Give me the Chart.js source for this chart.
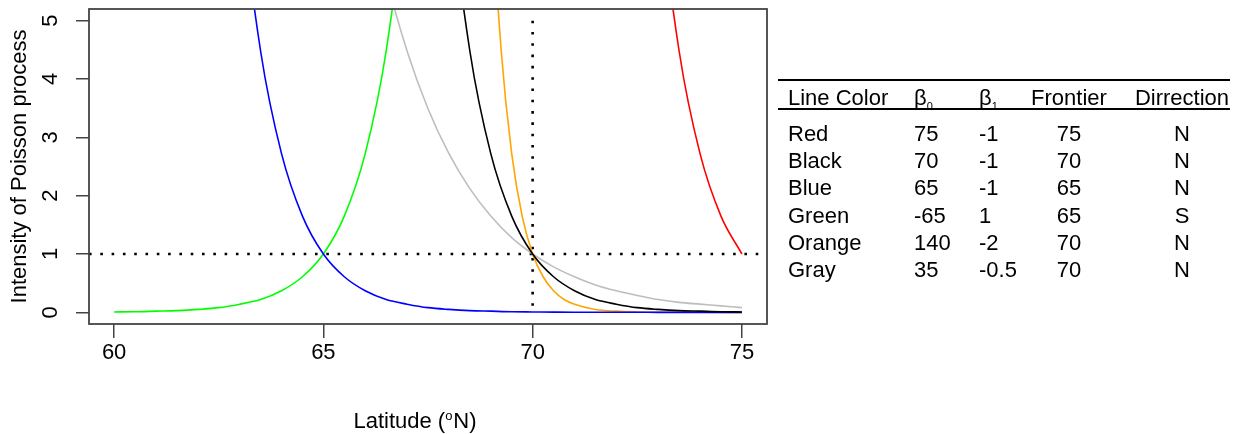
<!DOCTYPE html>
<html>
<head>
<meta charset="utf-8">
<title>Intensity of Poisson process</title>
<script src="https://cdn.jsdelivr.net/npm/chart.js"></script>
<style>
  body { margin: 0; background: #fff; font-family: "Liberation Sans", Arial, sans-serif; }
  #wrap { position: relative; width: 1255px; height: 434px; }
  canvas { position: absolute; left: 0; top: 0; }
  .cell { position: absolute; font-size: 22px; line-height: 27px; white-space: nowrap; color: #000; }
  .cell sub { font-size: 11px; vertical-align: -5px; }
  .center { transform: translateX(-50%); }
  .rule { position: absolute; left: 778px; width: 452px; height: 2px; background: #000; }
</style>
</head>
<body>
<div id="wrap">
  <canvas id="myChart" width="1255" height="434"></canvas>
</div>
<script>
// curves: intensity, per latitude
const redLat = [72.5, 73, 73.5, 74, 74.5, 75];
const redIntensity = [12.18, 7.39, 4.48, 2.72, 1.65, 1.00];

const blackLat = [67.5, 68, 68.5, 69, 69.5, 70, 70.5, 71, 71.5, 72, 72.5, 73, 73.5, 74, 74.5, 75];
const blackIntensity = [12.18, 7.39, 4.48, 2.72, 1.65, 1.00, 0.61, 0.37, 0.22, 0.14, 0.08, 0.05, 0.03, 0.02, 0.01, 0.007];

const blueLat = [62.5, 63, 63.5, 64, 64.5, 65, 65.5, 66, 66.5, 67, 67.5, 68, 68.5, 69, 69.5, 70, 70.5, 71, 71.5, 72, 72.5, 73, 73.5, 74, 74.5, 75];
const blueIntensity = [12.18, 7.39, 4.48, 2.72, 1.65, 1.00, 0.61, 0.37, 0.22, 0.14, 0.08, 0.05, 0.03, 0.02, 0.01, 0.007, 0.004, 0.002, 0.002, 0.001, 0.001, 0, 0, 0, 0, 0];

const greenLat = [60, 60.5, 61, 61.5, 62, 62.5, 63, 63.5, 64, 64.5, 65, 65.5, 66, 66.5, 67, 67.5];
const greenIntensity = [0.007, 0.01, 0.02, 0.03, 0.05, 0.08, 0.14, 0.22, 0.37, 0.61, 1.00, 1.65, 2.72, 4.48, 7.39, 12.18];

const orangeLat = [68.75, 69, 69.25, 69.5, 69.75, 70, 70.25, 70.5, 70.75, 71, 71.5, 72, 72.5, 73, 73.5, 74, 75];
const orangeIntensity = [12.18, 7.39, 4.48, 2.72, 1.65, 1.00, 0.61, 0.37, 0.22, 0.14, 0.05, 0.02, 0.007, 0.002, 0.001, 0.0003, 0];

const grayLat = [65.5, 66, 66.5, 67, 67.5, 68, 68.5, 69, 69.5, 70, 70.5, 71, 71.5, 72, 72.5, 73, 73.5, 74, 74.5, 75];
const grayIntensity = [9.49, 7.39, 5.75, 4.48, 3.49, 2.72, 2.12, 1.65, 1.28, 1.00, 0.78, 0.61, 0.47, 0.37, 0.29, 0.22, 0.17, 0.14, 0.11, 0.08];

// dotted reference lines
const refIntensity = 1;
const refLatitude = 70;
const refLatitudeTop = 5;

// axes
const xMin = 59.4, xMax = 75.6;
const yMin = -0.2, yMax = 5.2;
const xTicks = [60, 65, 70, 75];
const yTicks = [0, 1, 2, 3, 4, 5];

// table on the right
const tableHeader = ['Line Color', 'β<sub>0</sub>', 'β<sub>1</sub>', 'Frontier', 'Dirrection'];
const lineColorNames = ['Red', 'Black', 'Blue', 'Green', 'Orange', 'Gray'];
const beta0 = ['75', '70', '65', '-65', '140', '35'];
const beta1 = ['-1', '-1', '-1', '1', '-2', '-0.5'];
const frontier = ['75', '70', '65', '65', '70', '70'];
const direction = ['N', 'N', 'N', 'S', 'N', 'N'];

const FONT = '"Liberation Sans", Arial, sans-serif';

function pts(lat, val) {
    return lat.map((x, i) => ({ x: x, y: val[i] }));
}

function curve(lat, val, color) {
    return {
        data: pts(lat, val),
        borderColor: color,
        borderWidth: 1.6,
        pointRadius: 0,
        cubicInterpolationMode: 'monotone',
        fill: false
    };
}

function dotted(data) {
    return {
        data: data,
        borderColor: '#000',
        borderWidth: 2.6,
        borderDash: [2.6, 8.7],
        borderCapStyle: 'butt',
        pointRadius: 0,
        fill: false
    };
}

// frame, rotated y tick labels (R style) and x title with raised "o"
const rDecor = {
    id: 'rDecor',
    afterDraw(chart) {
        const { ctx, chartArea: a, scales: { x, y } } = chart;
        ctx.save();
        ctx.strokeStyle = '#444';
        ctx.lineWidth = 1.8;
        ctx.strokeRect(a.left, a.top, a.right - a.left, a.bottom - a.top);

        ctx.fillStyle = '#000';
        ctx.font = '22px ' + FONT;
        ctx.textAlign = 'center';
        ctx.textBaseline = 'alphabetic';
        y.ticks.forEach(t => {
            ctx.save();
            ctx.translate(57, y.getPixelForValue(t.value));
            ctx.rotate(-Math.PI / 2);
            ctx.fillText(String(t.value), 0, 0);
            ctx.restore();
        });

        // Latitude (°N)
        ctx.textAlign = 'left';
        const p1 = 'Latitude (', p2 = 'o', p3 = 'N)';
        ctx.font = '22px ' + FONT;
        const w1 = ctx.measureText(p1).width, w3 = ctx.measureText(p3).width;
        ctx.font = '13px ' + FONT;
        const w2 = ctx.measureText(p2).width + 1;
        const total = w1 + w2 + w3;
        let tx = (a.left + a.right) / 2 - 13 - total / 2;
        const ty = 428;
        ctx.font = '22px ' + FONT;
        ctx.fillText(p1, tx, ty);
        ctx.font = '13px ' + FONT;
        ctx.fillText(p2, tx + w1, ty - 8);
        ctx.font = '22px ' + FONT;
        ctx.fillText(p3, tx + w1 + w2, ty);
        ctx.restore();
    }
};

const ctx = document.getElementById('myChart').getContext('2d');
const myChart = new Chart(ctx, {
    type: 'line',
    data: {
        datasets: [
            curve(redLat, redIntensity, '#ff0000'),
            curve(blackLat, blackIntensity, '#000000'),
            curve(blueLat, blueIntensity, '#0000ff'),
            curve(greenLat, greenIntensity, '#00ff00'),
            curve(orangeLat, orangeIntensity, '#ffa500'),
            curve(grayLat, grayIntensity, '#bebebe'),
            dotted([{ x: xMin, y: refIntensity }, { x: xMax, y: refIntensity }]),
            dotted([{ x: refLatitude, y: refLatitudeTop }, { x: refLatitude, y: 0 }])
        ]
    },
    options: {
        responsive: false,
        animation: false,
        devicePixelRatio: 1,
        layout: { padding: { left: 0, right: 488, top: 9, bottom: 0 } },
        plugins: { legend: { display: false }, tooltip: { enabled: false } },
        scales: {
            x: {
                type: 'linear',
                min: xMin,
                max: xMax,
                afterBuildTicks: s => { s.ticks = xTicks.map(v => ({ value: v })); },
                afterFit: s => { s.height = 110; },
                border: { display: false },
                grid: { drawOnChartArea: false, drawTicks: true, tickLength: 14, color: '#444', lineWidth: 1.5 },
                ticks: { color: '#000', font: { family: FONT, size: 22 }, padding: 2, maxRotation: 0 }
            },
            y: {
                type: 'linear',
                min: yMin,
                max: yMax,
                afterBuildTicks: s => { s.ticks = yTicks.map(v => ({ value: v })); },
                afterFit: s => { s.width = 89; },
                border: { display: false },
                grid: { drawOnChartArea: false, drawTicks: true, tickLength: 13, color: '#444', lineWidth: 1.5 },
                ticks: { display: false },
                title: {
                    display: true,
                    text: 'Intensity of Poisson process',
                    color: '#000',
                    font: { family: FONT, size: 22 },
                    padding: { top: 7, bottom: 0 }
                }
            }
        }
    },
    plugins: [rDecor]
});

// table (HTML text)
const wrap = document.getElementById('wrap');
const colLeft = [788, 914, 979, 1069, 1182];
const colCentered = [false, false, false, true, true];
const headerCenterY = 97;
const rowCenterY = [133, 160, 187, 215, 242, 269];

function addCell(html, col, cy) {
    const d = document.createElement('div');
    d.className = 'cell' + (colCentered[col] ? ' center' : '');
    d.style.left = colLeft[col] + 'px';
    d.style.top = (cy - 13.5) + 'px';
    d.innerHTML = html;
    wrap.appendChild(d);
}
function addRule(y) {
    const r = document.createElement('div');
    r.className = 'rule';
    r.style.top = (y - 1) + 'px';
    wrap.appendChild(r);
}
addRule(80);
addRule(109);
// header cells: Frontier / Dirrection headers are left-aligned at their column start
addCell(tableHeader[0], 0, headerCenterY);
addCell(tableHeader[1], 1, headerCenterY);
addCell(tableHeader[2], 2, headerCenterY);
addCell(tableHeader[3], 3, headerCenterY);
addCell(tableHeader[4], 4, headerCenterY);
lineColorNames.forEach((name, i) => {
    addCell(name, 0, rowCenterY[i]);
    addCell(beta0[i], 1, rowCenterY[i]);
    addCell(beta1[i], 2, rowCenterY[i]);
    addCell(frontier[i], 3, rowCenterY[i]);
    addCell(direction[i], 4, rowCenterY[i]);
});
</script>
</body>
</html>
